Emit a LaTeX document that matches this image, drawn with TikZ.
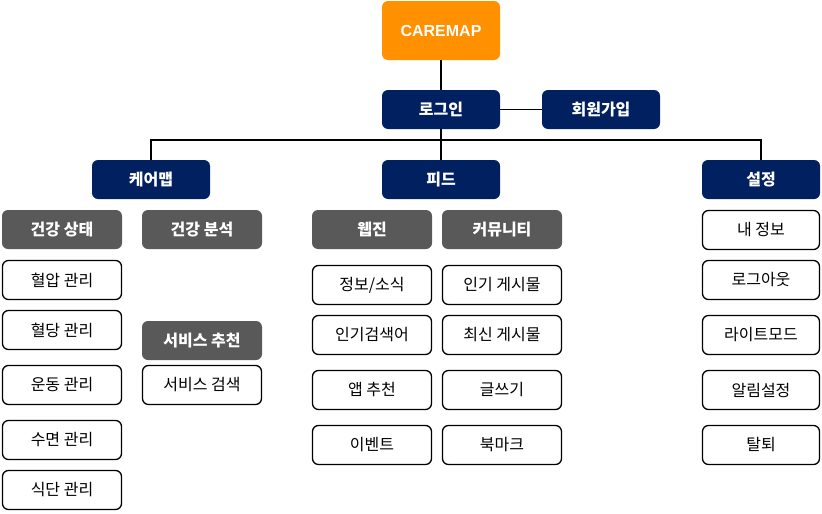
\documentclass[tikz,border=0pt]{standalone}
\usepackage{fontspec}
\setmainfont{Noto Sans CJK KR}
\newfontfamily\latinbold{Liberation Sans}
\usepackage{xcolor}
\usepackage{tikz}
\usetikzlibrary{positioning}
\definecolor{careorange}{HTML}{FF9000}
\definecolor{carenavy}{HTML}{002060}
\definecolor{caregray}{HTML}{595959}

\begin{document}
\begin{tikzpicture}[
    x=1pt, y=-1pt,
    font=\fontsize{16}{18}\selectfont,
    box/.style={rounded corners=6pt, minimum height=39pt, align=center, inner sep=0pt},
    root/.style={box, fill=careorange, text=white, font=\fontsize{16}{18}\selectfont\latinbold\bfseries, minimum width=118pt, minimum height=59pt},
    menu/.style={box, fill=carenavy, text=white, font=\fontsize{16}{18}\selectfont\bfseries, minimum width=118pt},
    group/.style={box, fill=caregray, text=white, font=\fontsize{16}{18}\selectfont\bfseries, minimum width=120pt},
    item/.style={box, draw=black, line width=1.3pt, fill=white, minimum width=119pt, minimum height=39pt},
    link/.style={line width=1.8pt, black}
]
\useasboundingbox (0,0) rectangle (822,514);

% Top levels
\node[root] (caremap) at (441,30.5) {CAREMAP};
\node[menu] (login) at (441,109.5) {로그인};
\node[menu] (signup) at (601,109.5) {회원가입};
\coordinate (bar) at (441,140);

\node[menu] (caremenu) at (151,179.5) {케어맵};
\node[menu] (feed) at (441,179.5) {피드};
\node[menu] (setting) at (761,179.5) {설정};

% Caremap column
\node[group] (hstate) at (62,229.5) {건강 상태};
\node[group] (hanal) at (202,229.5) {건강 분석};
\node[item] (bp) at (62,280) {혈압 관리};
\node[item] (bs) at (62,330) {혈당 관리};
\node[item] (ex) at (62,385) {운동 관리};
\node[item] (sleep) at (62,440) {수면 관리};
\node[item] (diet) at (62,490) {식단 관리};
\node[group] (srec) at (202,340.5) {서비스 추천};
\node[item] (ssearch) at (202,385) {서비스 검색};

% Feed column
\node[group] (webzine) at (372,229.5) {웹진};
\node[group] (comm) at (502,229.5) {커뮤니티};
\node[item] (news) at (372,285) {정보/소식};
\node[item] (keyword) at (372,335) {인기검색어};
\node[item] (apprec) at (372,390) {앱 추천};
\node[item] (event) at (372,445) {이벤트};
\node[item] (hot) at (502,285) {인기 게시물};
\node[item] (recent) at (502,335) {최신 게시물};
\node[item] (write) at (502,390) {글쓰기};
\node[item] (bookmark) at (502,445) {북마크};

% Setting column
\node[item, minimum width=117pt] (myinfo) at (761,230) {내 정보};
\node[item, minimum width=117pt] (logout) at (761,280) {로그아웃};
\node[item, minimum width=117pt] (light) at (761,335) {라이트모드};
\node[item, minimum width=117pt] (alarm) at (761,390) {알림설정};
\node[item, minimum width=117pt] (quit) at (761,445) {탈퇴};

% Connectors
\draw[link] (caremap) -- (login);
\draw[link] (login) -- (signup);
\draw[link] (login) -- (feed);
\draw[link] (caremenu.north) -- (caremenu.north |- bar) -| (setting.north);
\end{tikzpicture}
\end{document}
